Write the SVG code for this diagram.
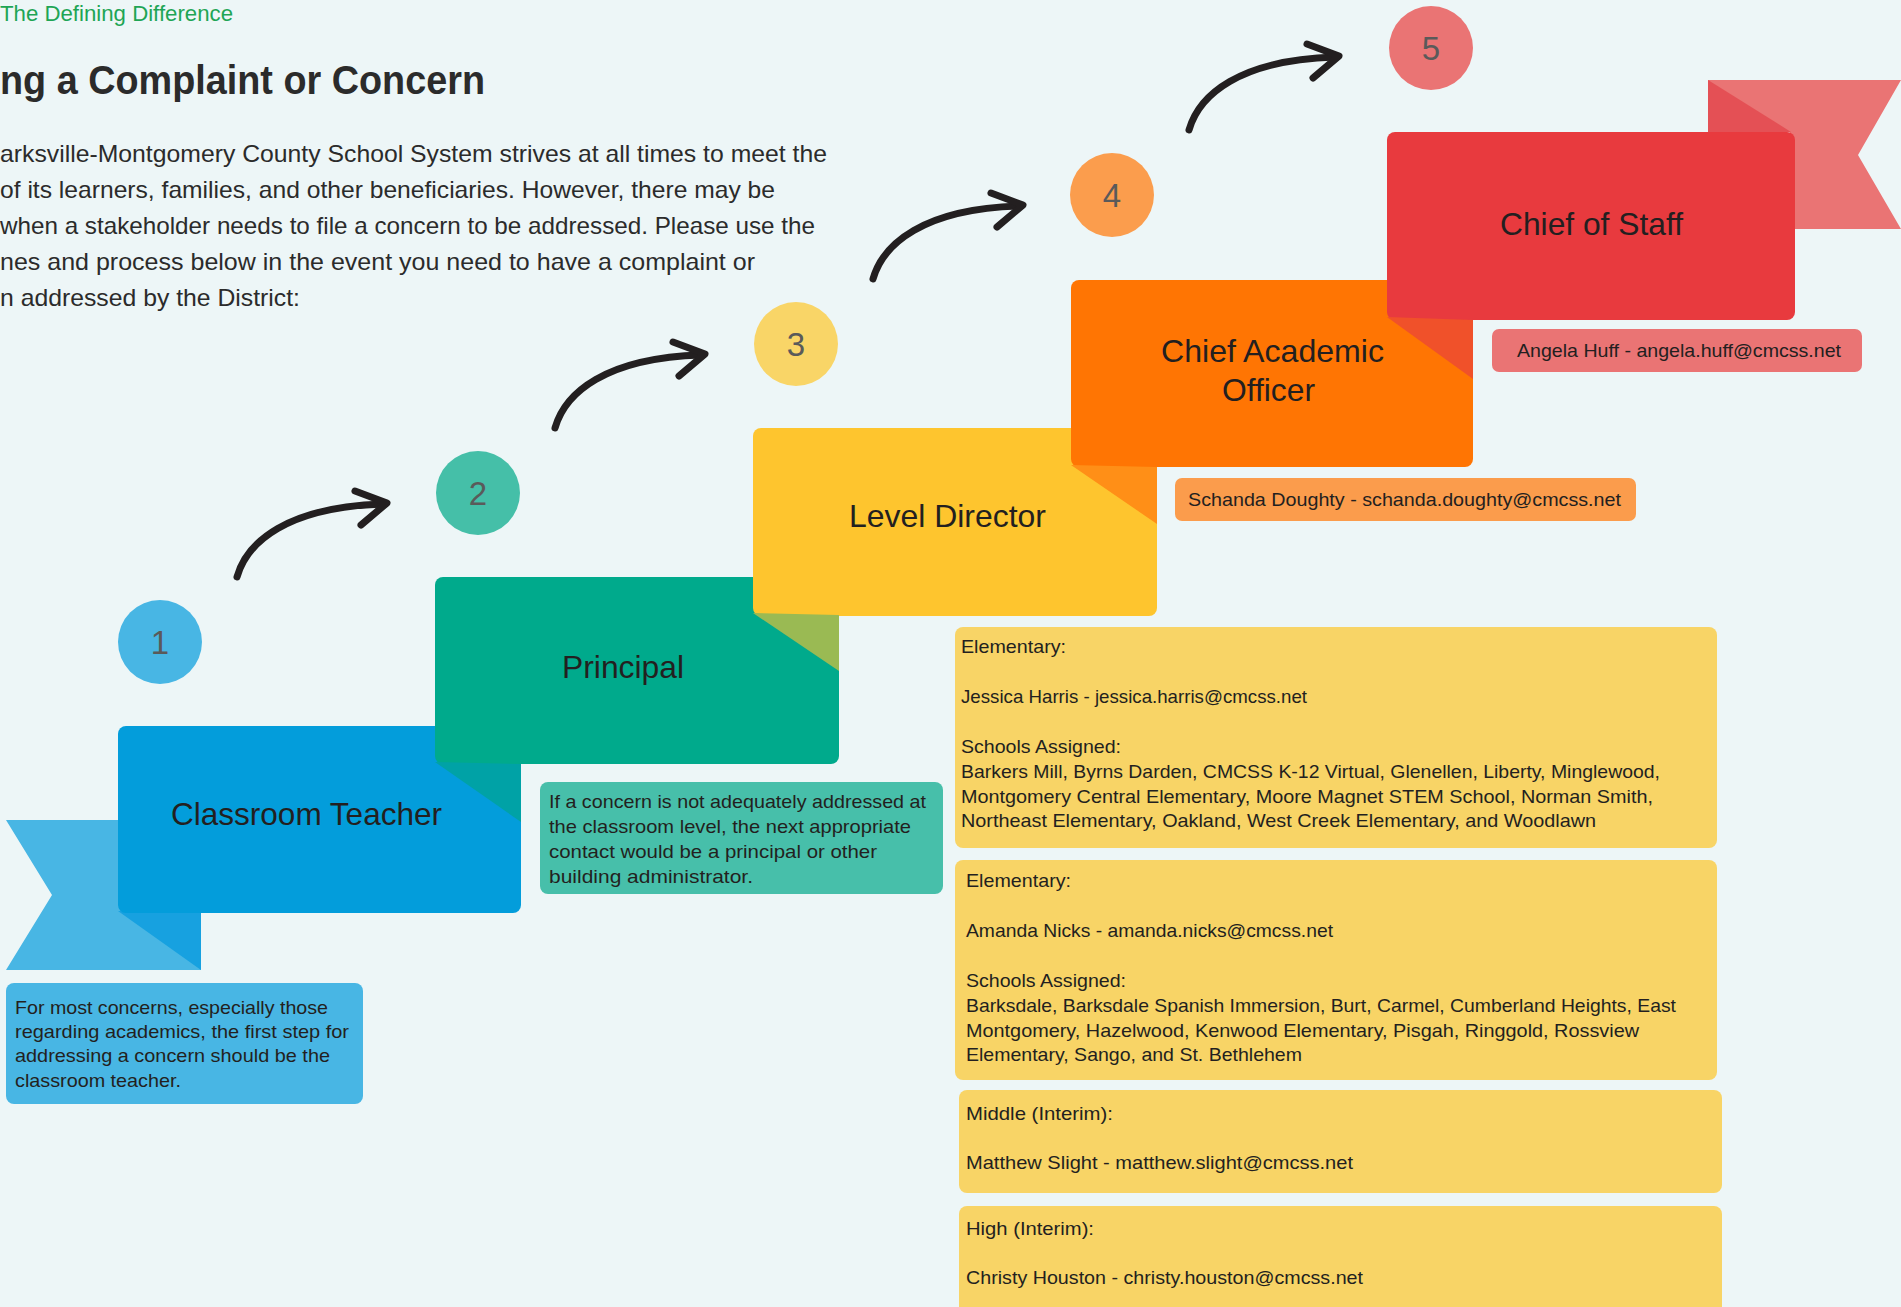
<svg xmlns="http://www.w3.org/2000/svg" width="1901" height="1307" viewBox="0 0 1901 1307">
<style>
text{font-family:"Liberation Sans",Arial,sans-serif;fill:#231f20}
.para{font-size:24px;fill:#2b2b2b}
.lbl{font-size:32px}
.num{font-size:33px;fill:#5a5a5a;text-anchor:middle}
.info{font-size:19px}
.yel{font-size:18.5px}
.arr{fill:none;stroke:#231f20;stroke-width:7;stroke-linecap:round;stroke-linejoin:round}
</style>
<defs>
<g id="arrowShape">
<path class="arr" d="M0 0 C10 -35 50 -70 146 -73"/>
<path class="arr" d="M118 -86 L150 -74 L124 -52"/>
</g>
</defs>
<rect width="1901" height="1307" fill="#edf6f7"/>

<g id="header">
<text x="0" y="21" style="font-size:22px;fill:#1ea555" textLength="233" lengthAdjust="spacingAndGlyphs">The Defining Difference</text>
<text x="0" y="94" style="font-size:40px;font-weight:bold;fill:#2b2b2b" textLength="485" lengthAdjust="spacingAndGlyphs">ng a Complaint or Concern</text>
<text class="para" x="0" y="162" textLength="827" lengthAdjust="spacingAndGlyphs">arksville-Montgomery County School System strives at all times to meet the</text>
<text class="para" x="0" y="198" textLength="775" lengthAdjust="spacingAndGlyphs">of its learners, families, and other beneficiaries. However, there may be</text>
<text class="para" x="0" y="234" textLength="815" lengthAdjust="spacingAndGlyphs">when a stakeholder needs to file a concern to be addressed. Please use the</text>
<text class="para" x="0" y="270" textLength="755" lengthAdjust="spacingAndGlyphs">nes and process below in the event you need to have a complaint or</text>
<text class="para" x="0" y="306" textLength="300" lengthAdjust="spacingAndGlyphs">n addressed by the District:</text>
</g>

<g id="connectors">
<use href="#arrowShape" transform="translate(237,577)"/>
<use href="#arrowShape" transform="translate(555,428)"/>
<use href="#arrowShape" transform="translate(873,279)"/>
<use href="#arrowShape" transform="translate(1189,130)"/>
</g>

<g id="step1">
<polygon points="6,820 201,820 201,970 6,970 52,895" fill="#48b6e4"/>
<polygon points="118,911 201,913 201,970" fill="#17a1e0"/>
<rect x="118" y="726" width="403" height="187" rx="8" fill="#039ddb"/>
<text class="lbl" x="171" y="825" textLength="271" lengthAdjust="spacingAndGlyphs">Classroom Teacher</text>
<circle cx="160" cy="642" r="42" fill="#48b6e4"/>
<text class="num" x="160" y="654">1</text>
</g>

<g id="step2">
<rect x="435" y="577" width="404" height="187" rx="8" fill="#00aa8c"/>
<polygon points="435,762 521,764 521,822" fill="#00a2a6"/>
<text class="lbl" x="562" y="678" textLength="122" lengthAdjust="spacingAndGlyphs">Principal</text>
<circle cx="478" cy="493" r="42" fill="#45bfa8"/>
<text class="num" x="478" y="505">2</text>
</g>

<g id="step3">
<rect x="753" y="428" width="404" height="188" rx="8" fill="#fec52e"/>
<polygon points="753,613 839,615 839,671" fill="#9aba53"/>
<text class="lbl" x="849" y="527" textLength="197" lengthAdjust="spacingAndGlyphs">Level Director</text>
<circle cx="796" cy="344" r="42" fill="#f9d567"/>
<text class="num" x="796" y="356">3</text>
</g>

<g id="step4">
<rect x="1071" y="280" width="402" height="187" rx="8" fill="#ff7503"/>
<polygon points="1071,465 1157,467 1157,524" fill="#ff8f17"/>
<text class="lbl" x="1161" y="362" textLength="223" lengthAdjust="spacingAndGlyphs">Chief Academic</text>
<text class="lbl" x="1222" y="401" textLength="93" lengthAdjust="spacingAndGlyphs">Officer</text>
<circle cx="1112" cy="195" r="42" fill="#fb9d4d"/>
<text class="num" x="1112" y="207">4</text>
</g>

<g id="step5">
<polygon points="1708,80 1901,80 1858,155 1901,229 1790,229 1790,132 1708,132" fill="#ea7474"/>
<polygon points="1708,80 1708,132 1791,132" fill="#e45055"/>
<rect x="1387" y="132" width="408" height="188" rx="8" fill="#e83a3e"/>
<polygon points="1387,317 1473,320 1473,379" fill="#f0512a"/>
<text class="lbl" x="1500" y="235" textLength="183" lengthAdjust="spacingAndGlyphs">Chief of Staff</text>
<circle cx="1431" cy="48" r="42" fill="#ea7474"/>
<text class="num" x="1431" y="60">5</text>
</g>

<g id="note1">
<rect x="6" y="983" width="357" height="121" rx="8" fill="#48b6e4"/>
<text class="info" x="15" y="1014" textLength="313" lengthAdjust="spacingAndGlyphs">For most concerns, especially those</text>
<text class="info" x="15" y="1038" textLength="334" lengthAdjust="spacingAndGlyphs">regarding academics, the first step for</text>
<text class="info" x="15" y="1062" textLength="315" lengthAdjust="spacingAndGlyphs">addressing a concern should be the</text>
<text class="info" x="15" y="1087" textLength="166" lengthAdjust="spacingAndGlyphs">classroom teacher.</text>
</g>

<g id="note2">
<rect x="540" y="782" width="403" height="112" rx="8" fill="#47bfaa"/>
<text class="info" x="549" y="808" textLength="377" lengthAdjust="spacingAndGlyphs">If a concern is not adequately addressed at</text>
<text class="info" x="549" y="833" textLength="362" lengthAdjust="spacingAndGlyphs">the classroom level, the next appropriate</text>
<text class="info" x="549" y="858" textLength="328" lengthAdjust="spacingAndGlyphs">contact would be a principal or other</text>
<text class="info" x="549" y="883" textLength="204" lengthAdjust="spacingAndGlyphs">building administrator.</text>
</g>

<g id="note4">
<rect x="1175" y="478" width="461" height="43" rx="7" fill="#fb9c4c"/>
<text class="info" x="1188" y="506" textLength="433" lengthAdjust="spacingAndGlyphs">Schanda Doughty - schanda.doughty@cmcss.net</text>
</g>

<g id="note5">
<rect x="1492" y="329" width="370" height="43" rx="7" fill="#ea7474"/>
<text class="info" x="1517" y="357" textLength="324" lengthAdjust="spacingAndGlyphs">Angela Huff - angela.huff@cmcss.net</text>
</g>

<g id="note3a">
<rect x="955" y="627" width="762" height="221" rx="8" fill="#f8d466"/>
<text class="yel" x="961" y="653" textLength="105" lengthAdjust="spacingAndGlyphs">Elementary:</text>
<text class="yel" x="961" y="703" textLength="346" lengthAdjust="spacingAndGlyphs">Jessica Harris - jessica.harris@cmcss.net</text>
<text class="yel" x="961" y="753" textLength="160" lengthAdjust="spacingAndGlyphs">Schools Assigned:</text>
<text class="yel" x="961" y="778" textLength="699" lengthAdjust="spacingAndGlyphs">Barkers Mill, Byrns Darden, CMCSS K-12 Virtual, Glenellen, Liberty, Minglewood,</text>
<text class="yel" x="961" y="803" textLength="692" lengthAdjust="spacingAndGlyphs">Montgomery Central Elementary, Moore Magnet STEM School, Norman Smith,</text>
<text class="yel" x="961" y="827" textLength="635" lengthAdjust="spacingAndGlyphs">Northeast Elementary, Oakland, West Creek Elementary, and Woodlawn</text>
</g>

<g id="note3b">
<rect x="955" y="860" width="762" height="220" rx="8" fill="#f8d466"/>
<text class="yel" x="966" y="887" textLength="105" lengthAdjust="spacingAndGlyphs">Elementary:</text>
<text class="yel" x="966" y="937" textLength="367" lengthAdjust="spacingAndGlyphs">Amanda Nicks - amanda.nicks@cmcss.net</text>
<text class="yel" x="966" y="987" textLength="160" lengthAdjust="spacingAndGlyphs">Schools Assigned:</text>
<text class="yel" x="966" y="1012" textLength="710" lengthAdjust="spacingAndGlyphs">Barksdale, Barksdale Spanish Immersion, Burt, Carmel, Cumberland Heights, East</text>
<text class="yel" x="966" y="1037" textLength="673" lengthAdjust="spacingAndGlyphs">Montgomery, Hazelwood, Kenwood Elementary, Pisgah, Ringgold, Rossview</text>
<text class="yel" x="966" y="1061" textLength="336" lengthAdjust="spacingAndGlyphs">Elementary, Sango, and St. Bethlehem</text>
</g>

<g id="note3c">
<rect x="959" y="1090" width="763" height="103" rx="8" fill="#f8d466"/>
<text class="yel" x="966" y="1120" textLength="147" lengthAdjust="spacingAndGlyphs">Middle (Interim):</text>
<text class="yel" x="966" y="1169" textLength="387" lengthAdjust="spacingAndGlyphs">Matthew Slight - matthew.slight@cmcss.net</text>
</g>

<g id="note3d">
<rect x="959" y="1206" width="763" height="120" rx="8" fill="#f8d466"/>
<text class="yel" x="966" y="1235" textLength="128" lengthAdjust="spacingAndGlyphs">High (Interim):</text>
<text class="yel" x="966" y="1284" textLength="397" lengthAdjust="spacingAndGlyphs">Christy Houston - christy.houston@cmcss.net</text>
</g>
</svg>
